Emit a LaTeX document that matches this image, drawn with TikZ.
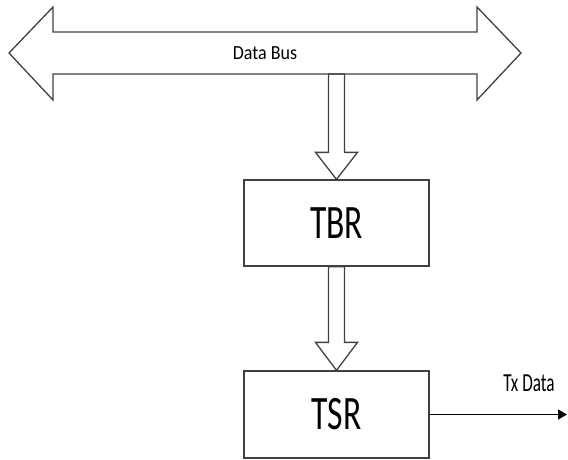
\documentclass[tikz,border=0pt]{standalone}
\usepackage{fontspec}
\setmainfont{Carlito}
\usetikzlibrary{arrows.meta,calc}

\newcommand{\squeezed}[2]{\scalebox{#1}[1]{#2}}

\begin{document}
\begin{tikzpicture}[
    x = 1pt, y = -1pt,
    line join=miter,
    outline/.style = {line width=1.3pt, draw=black!75},
    block/.style = {outline, minimum width=185pt, minimum height=86pt, inner sep=0pt, font=\fontsize{48}{48}\selectfont},
    hollow/.style = {outline}
]
\useasboundingbox (0,0) rectangle (568,459);

% two-headed bus
\coordinate (busL) at (9,53);
\coordinate (busR) at (521,53);
\coordinate (busfoot) at (336.5,74);

\draw[hollow] (busL) --++ (44,-46) --++ (0,25) --++ (424,0) --++ (0,-25) -- (busR)
    --++ (-44,47) --++ (0,-26) --++ (-424,0) --++ (0,26) -- cycle;
\node[font=\fontsize{20}{20}\selectfont] (bus) at (265,53) {\squeezed{.9}{Data Bus}};

% registers
\node[block] (tbr) at (336.5,223) {\squeezed{.7}{TBR}};
\node[block, minimum height=87pt] (tsr) at (336.5,414.5) {\squeezed{.7}{TSR}};

% hollow down arrows
\draw[hollow] (tbr.north) --++ (-21,-27) --++ (13,0) |- ($(busfoot)+(8,0)$) |- ($(tbr.north)+(21,-27)$) -- cycle;
\draw[hollow] (tsr.north) --++ (-21,-28) --++ (13,0) |- ($(tbr.south)+(8,0)$) |- ($(tsr.north)+(21,-28)$) -- cycle;

% serial output
\coordinate (txend) at (567,0);
\draw[outline, draw=black, -{Triangle[length=9pt,width=10pt]}] (tsr.east) -- (tsr.east -| txend);
\node[font=\fontsize{26}{26}\selectfont] (txdata) at (529,383) {\squeezed{.66}{Tx Data}};

\end{tikzpicture}
\end{document}
